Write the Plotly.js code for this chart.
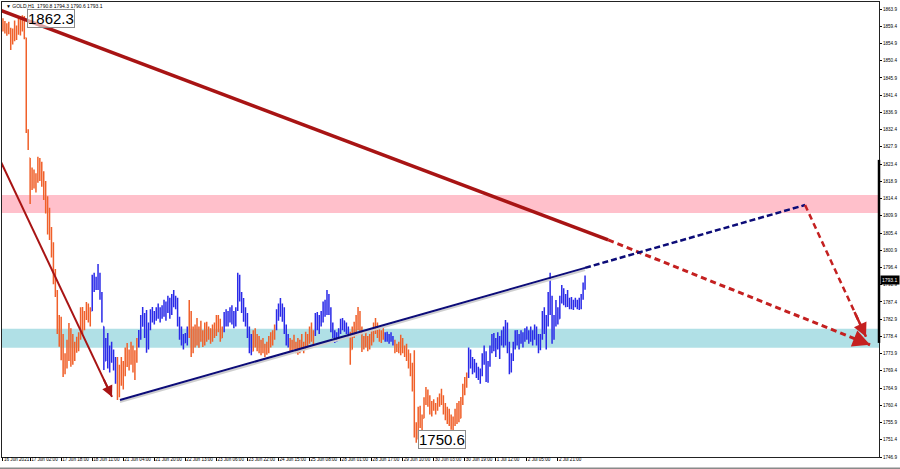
<!DOCTYPE html>
<html><head><meta charset="utf-8">
<script src="https://cdn.plot.ly/plotly-3.0.1.min.js"></script>
<style>html,body{margin:0;padding:0;background:#fff}</style>
</head><body><div id="chart" style="width:900px;height:469px"></div>
<script>
// ---- bar data (hourly GOLD bars, index 0..300) ----
const barHigh = [
1861.5,1860.8,1860.2,1860.6,1859.0,1858.8,1860.9,1859.6,1861.8,1862.0,
1862.3,1862.1,1856.4,1832.5,1825.0,1822.5,1822.0,1821.0,1825.3,1825.0,
1824.0,1821.5,1819.0,1815.0,1812.0,1807.0,1803.0,1796.0,1790.5,1784.0,
1783.5,1779.0,1774.0,1777.5,1781.9,1780.5,1779.0,1777.0,1778.3,1779.5,
1786.0,1786.1,1785.0,1787.4,1787.0,1786.0,1794.5,1795.0,1794.0,1797.3,
1795.0,1790.0,1781.0,1778.0,1779.3,1776.0,1777.0,1775.0,1773.0,1773.0,
1771.0,1773.0,1772.0,1775.5,1776.7,1775.0,1777.0,1776.0,1774.8,1778.0,
1780.1,1784.0,1786.1,1784.5,1785.3,1782.0,1785.5,1786.1,1785.0,1786.0,
1787.0,1786.0,1786.5,1788.0,1787.5,1789.0,1788.5,1789.5,1790.5,1789.0,
1788.5,1783.5,1781.0,1779.0,1779.3,1781.0,1787.9,1785.0,1781.0,1781.5,
1783.2,1781.0,1782.5,1780.0,1782.0,1782.2,1781.0,1780.5,1781.5,1782.0,
1784.0,1784.0,1783.0,1781.0,1784.8,1785.5,1785.0,1786.0,1786.5,1785.0,
1786.0,1795.0,1794.5,1790.0,1788.4,1786.0,1784.5,1781.0,1779.0,1780.0,
1780.5,1779.0,1778.5,1777.5,1778.0,1776.5,1777.0,1778.5,1779.5,1780.0,
1781.5,1785.5,1787.0,1788.4,1787.0,1786.0,1781.5,1779.0,1778.0,1777.5,
1778.8,1777.0,1778.0,1777.5,1779.0,1777.0,1779.6,1779.0,1781.0,1782.0,
1780.0,1784.5,1784.8,1784.0,1785.0,1787.5,1788.0,1790.5,1789.5,1786.0,
1782.0,1780.0,1779.5,1780.5,1783.0,1783.2,1782.5,1782.0,1781.0,1779.6,
1781.0,1782.2,1784.0,1786.1,1785.0,1781.0,1778.5,1779.6,1778.5,1779.0,
1780.0,1782.0,1783.2,1782.0,1780.5,1780.0,1780.6,1779.5,1779.6,1779.0,
1779.5,1778.5,1777.5,1776.5,1777.0,1778.8,1778.0,1776.0,1776.5,1775.0,
1774.0,1771.5,1774.8,1756.0,1760.0,1760.3,1758.0,1762.5,1765.2,1764.5,
1763.0,1761.5,1762.0,1761.0,1762.5,1763.5,1764.7,1763.0,1761.0,1760.0,
1759.5,1758.0,1757.5,1759.5,1761.0,1761.5,1762.6,1766.0,1767.8,1769.0,
1775.5,1775.0,1773.0,1772.5,1771.5,1770.5,1770.0,1774.0,1776.0,1774.5,
1772.0,1776.0,1779.0,1779.3,1778.0,1779.5,1778.5,1780.0,1781.0,1782.7,
1782.0,1777.0,1774.0,1777.0,1780.0,1780.1,1779.0,1780.0,1779.5,1780.5,
1781.0,1780.0,1781.0,1780.0,1781.5,1781.0,1779.0,1779.0,1785.0,1786.0,
1784.0,1790.0,1795.0,1789.0,1784.0,1787.9,1786.0,1789.0,1791.8,1791.0,
1789.5,1790.5,1788.5,1788.7,1788.0,1788.5,1788.0,1788.5,1789.5,1792.5,
1794.3];
const barLow = [
1858.0,1857.5,1856.9,1857.3,1853.2,1854.6,1855.5,1855.8,1857.2,1857.0,
1858.0,1856.0,1831.5,1827.1,1813.0,1816.6,1817.0,1816.0,1818.5,1819.0,
1817.5,1814.0,1810.5,1805.0,1803.6,1799.0,1792.0,1788.7,1779.0,1775.7,
1772.2,1767.8,1768.5,1770.0,1772.0,1770.5,1771.0,1772.0,1774.1,1774.5,
1777.5,1779.0,1780.0,1782.7,1782.0,1781.0,1785.0,1790.0,1790.5,1790.5,
1788.0,1782.0,1769.6,1772.0,1770.0,1769.0,1771.5,1769.5,1766.0,1761.8,
1762.5,1765.5,1764.5,1768.0,1770.4,1769.5,1771.0,1769.0,1767.0,1771.5,
1775.5,1777.5,1780.9,1778.0,1774.1,1775.0,1780.0,1782.0,1781.5,1782.5,
1783.0,1782.0,1783.0,1783.5,1782.5,1784.5,1783.0,1784.0,1786.0,1785.5,
1781.0,1777.5,1776.0,1775.0,1776.7,1776.0,1778.0,1773.0,1774.0,1775.5,
1776.0,1775.4,1777.0,1775.6,1776.0,1777.0,1777.5,1776.5,1777.0,1778.0,
1778.5,1779.5,1777.0,1778.0,1779.5,1781.0,1781.0,1782.0,1781.5,1780.5,
1781.0,1785.0,1787.5,1784.5,1782.2,1781.0,1778.0,1774.0,1773.5,1774.5,
1775.5,1774.5,1774.0,1773.5,1774.0,1773.0,1773.6,1774.0,1775.5,1776.0,
1777.5,1780.0,1782.5,1783.5,1782.2,1779.0,1776.0,1775.5,1774.5,1774.3,
1775.0,1774.0,1773.6,1774.0,1775.0,1774.0,1775.0,1775.5,1776.5,1777.0,
1776.0,1778.5,1780.0,1779.0,1781.0,1782.0,1783.5,1784.0,1784.0,1779.5,
1778.0,1776.7,1777.0,1777.5,1779.0,1780.0,1779.6,1779.0,1778.0,1771.0,
1775.0,1778.0,1778.5,1780.0,1779.5,1774.3,1775.0,1775.5,1774.5,1775.0,
1776.0,1777.0,1779.0,1778.0,1777.0,1776.7,1777.5,1777.0,1777.0,1776.5,
1777.0,1776.0,1774.0,1774.3,1774.0,1773.5,1774.0,1773.0,1772.0,1770.0,
1768.0,1764.0,1752.0,1750.6,1751.5,1754.5,1753.0,1757.0,1760.5,1760.0,
1758.0,1757.5,1759.0,1758.0,1759.0,1760.0,1760.5,1758.0,1756.5,1755.5,
1755.0,1754.0,1753.5,1755.0,1755.5,1756.0,1757.0,1760.5,1763.0,1765.0,
1767.5,1770.0,1768.5,1769.0,1767.5,1767.0,1766.0,1768.0,1771.0,1766.5,
1766.3,1770.5,1774.0,1774.5,1773.0,1775.0,1772.5,1776.0,1775.5,1776.0,
1774.0,1768.5,1769.0,1772.0,1775.0,1776.0,1775.0,1776.5,1775.5,1777.0,
1777.5,1776.5,1777.0,1776.0,1777.5,1776.0,1774.0,1774.8,1777.5,1779.0,
1775.0,1781.0,1784.0,1776.5,1777.5,1781.0,1781.5,1783.0,1787.0,1786.5,
1786.0,1786.1,1785.5,1785.5,1785.3,1786.0,1785.5,1785.3,1785.5,1788.0,
1790.6];
const barClose = [
1859.2,1858.1,1859.5,1857.8,1855.0,1858.0,1856.3,1859.0,1860.9,1858.4,
1861.5,1856.4,1832.0,1828.0,1818.5,1820.5,1819.0,1820.0,1824.0,1822.0,
1819.0,1815.0,1812.0,1807.0,1805.5,1800.5,1794.0,1790.0,1781.0,1777.0,
1774.5,1769.0,1772.5,1776.0,1774.0,1778.0,1773.5,1775.5,1777.0,1778.5,
1784.5,1781.0,1784.0,1786.5,1783.0,1785.0,1793.0,1791.0,1793.5,1792.0,
1789.0,1783.5,1772.0,1776.5,1771.0,1774.0,1772.5,1770.5,1767.0,1763.0,
1769.5,1767.0,1770.5,1773.5,1772.0,1774.5,1772.5,1771.5,1773.5,1777.0,
1779.0,1783.0,1781.5,1779.0,1776.0,1781.5,1784.5,1783.0,1784.0,1785.5,
1784.0,1785.0,1786.0,1784.5,1786.5,1788.0,1785.0,1788.5,1787.0,1788.0,
1782.0,1779.0,1777.0,1776.5,1778.5,1780.0,1779.0,1775.0,1779.5,1777.0,
1778.0,1780.5,1778.0,1776.5,1781.5,1778.5,1780.0,1777.5,1780.5,1779.0,
1783.0,1780.5,1778.0,1780.5,1784.0,1782.5,1784.5,1785.5,1782.5,1784.5,
1785.5,1792.5,1789.0,1786.0,1783.5,1782.0,1779.5,1775.0,1774.5,1778.5,
1776.5,1777.5,1775.0,1776.0,1775.0,1774.0,1776.0,1777.5,1778.5,1779.5,
1781.0,1784.5,1786.0,1784.5,1785.5,1780.0,1777.0,1777.5,1775.5,1776.5,
1776.0,1775.0,1774.5,1776.5,1775.5,1776.0,1778.5,1777.0,1780.5,1778.0,
1779.5,1783.5,1781.0,1783.0,1784.5,1786.5,1784.5,1789.0,1785.0,1780.5,
1779.0,1777.5,1778.5,1780.0,1782.0,1782.5,1781.0,1780.5,1779.0,1772.5,
1780.0,1779.0,1783.5,1781.0,1780.5,1775.5,1777.5,1776.0,1777.0,1778.5,
1777.0,1781.0,1780.0,1781.0,1778.0,1779.5,1778.0,1778.5,1777.5,1778.5,
1777.5,1777.0,1775.0,1775.5,1774.5,1777.5,1774.5,1774.0,1773.0,1771.0,
1769.0,1765.0,1753.5,1752.0,1759.0,1756.0,1757.0,1762.0,1763.0,1761.5,
1759.0,1760.5,1759.5,1760.5,1761.5,1762.5,1761.0,1759.0,1758.0,1757.5,
1756.0,1755.0,1756.5,1756.0,1760.0,1757.0,1761.5,1765.0,1767.0,1768.0,
1774.5,1771.0,1772.0,1770.0,1769.5,1768.0,1769.5,1773.0,1772.0,1767.5,
1771.0,1775.5,1778.0,1775.5,1777.0,1776.0,1777.5,1779.0,1776.5,1781.5,
1775.0,1770.0,1773.0,1776.0,1779.0,1777.0,1778.5,1777.5,1779.0,1780.0,
1778.5,1779.5,1778.0,1779.0,1780.5,1777.0,1775.0,1778.5,1784.0,1780.5,
1782.5,1789.0,1786.0,1778.0,1783.0,1785.0,1782.5,1788.5,1790.5,1787.0,
1789.0,1787.5,1788.0,1786.5,1787.5,1786.5,1787.5,1786.0,1789.0,1790.8,
1793.1];
const firstOpen = 1860.0;
// bar index ranges drawn in blue (rest orange)
const blueRanges = [[46,58],[70,95],[114,128],[141,147],[161,178],[197,201],[240,300]];

// axis ticks
const xTickIdx = [0,14,30,46,62,78,94,110,126,142,158,174,190,206,222,238,254,270,286];
const xTickText = ['16 Jun 2021','17 Jun 02:00','17 Jun 18:00','18 Jun 11:00','21 Jun 04:00','21 Jun 20:00','22 Jun 13:00','23 Jun 06:00','23 Jun 22:00','24 Jun 15:00','25 Jun 08:00','28 Jun 01:00','28 Jun 17:00','29 Jun 10:00','30 Jun 03:00','30 Jun 19:00','1 Jul 12:00','2 Jul 05:00','2 Jul 21:00'];
const yTickVals = [1863.9,1859.4,1854.9,1850.4,1845.9,1841.4,1836.9,1832.4,1827.9,1823.4,1818.9,1814.4,1809.9,1805.4,1800.9,1796.4,1791.9,1787.4,1782.9,1778.4,1773.9,1769.4,1764.9,1760.4,1755.9,1751.4,1746.9];

// zones
const resistZone = [1810.6, 1815.3];
const supportZone = [1775.4, 1780.4];

// wave drawing points (bar index, price)
const bigWaveI = [-1.55, 311.9, 446.9];
const bigWaveP = [1863.64, 1803.6, 1776.2];
const leftWaveI = [-1.55, 56.2];
const leftWaveP = [1824.5, 1762.6];
const navyWaveI = [60.3, 300, 413.4];
const navyWaveP = [1761.8, 1796.3, 1812.7];
const fcstWaveI = [413.4, 444.8];
const fcstWaveP = [1812.7, 1778.3];

const lastLabel = 1793.1;
const highLabel = {i:10, p:1862.3, text:'1862.3'};
const lowLabel = {i:213, p:1750.6, text:'1750.6'};
const headerText = '▼ GOLD,H1  1790.8 1794.3 1790.6 1793.1';

// ---- build ----
const isBlue = i => blueRanges.some(r => i >= r[0] && i <= r[1]);
const sets = {blue:{x:[],o:[],h:[],l:[],c:[]}, orange:{x:[],o:[],h:[],l:[],c:[]}};
for (let i = 0; i < barClose.length; i++) {
  let o = i === 0 ? firstOpen : barClose[i-1];
  o = Math.min(barHigh[i], Math.max(barLow[i], o));
  const s = isBlue(i) ? sets.blue : sets.orange;
  s.x.push(i); s.o.push(o); s.h.push(barHigh[i]); s.l.push(barLow[i]); s.c.push(barClose[i]);
}
const ORANGE = '#F0602A', BLUE = '#2A2AE8';
function ohlc(s, col) {
  return {type:'ohlc', x:s.x, open:s.o, high:s.h, low:s.l, close:s.c,
    increasing:{line:{color:col, width:1.5}}, decreasing:{line:{color:col, width:1.5}},
    tickwidth:0.35, hoverinfo:'skip', showlegend:false};
}
const traces = [ohlc(sets.orange, ORANGE), ohlc(sets.blue, BLUE)];

const DRED = '#A81414', RED = '#C42020', NAVY = '#0C0C78';
function seg(i0,p0,i1,p1,color,width,dash) {
  return {type:'line', xref:'x', yref:'y', x0:i0, y0:p0, x1:i1, y1:p1, layer:'above',
    line:{color:color, width:width, dash:dash||'solid'}};
}
const shapes = [
  {type:'rect', xref:'paper', yref:'y', x0:0, x1:1, y0:resistZone[0], y1:resistZone[1], fillcolor:'#FFC0CB', line:{width:0}, layer:'below'},
  {type:'rect', xref:'paper', yref:'y', x0:0, x1:1, y0:supportZone[0], y1:supportZone[1], fillcolor:'#B0E0E6', line:{width:0}, layer:'below'},
  // shadow under navy line
  seg(navyWaveI[0], navyWaveP[0]-0.55, navyWaveI[1], navyWaveP[1]-0.55, '#CFCFCF', 2),
  seg(leftWaveI[0], leftWaveP[0], leftWaveI[1], leftWaveP[1], DRED, 2),
  seg(bigWaveI[0], bigWaveP[0], bigWaveI[1], bigWaveP[1], DRED, 3.5),
  seg(bigWaveI[1], bigWaveP[1], bigWaveI[2], bigWaveP[2], RED, 3, '6px,4px'),
  seg(navyWaveI[0], navyWaveP[0], navyWaveI[1], navyWaveP[1], NAVY, 2),
  seg(navyWaveI[1], navyWaveP[1], navyWaveI[2], navyWaveP[2], NAVY, 2.5, '6px,3px'),
  seg(fcstWaveI[0], fcstWaveP[0], fcstWaveI[1], fcstWaveP[1], RED, 2.5, '6px,4px'),
  // right scale marker
  {type:'line', xref:'paper', yref:'y', x0:1, x1:1, y0:1824.5, y1:1776.7, line:{color:'#000', width:2.5}},
  // bottom frame bar
  {type:'line', xref:'paper', yref:'paper', x0:-0.01, x1:1.05, y0:-0.025, y1:-0.025, line:{color:'#8a8a8a', width:2}}
];

function arrowHead(iArr, pArr, color, width, size, f) {
  const n = iArr.length;
  const ti = iArr[n-1], tp = pArr[n-1], si = iArr[n-2], sp = pArr[n-2];
  return {x:ti, y:tp, ax:ti + (si-ti)*f, ay:tp + (sp-tp)*f, xref:'x', yref:'y', axref:'x', ayref:'y',
    text:'', showarrow:true, arrowhead:2, arrowsize:size, arrowwidth:width, arrowcolor:color, standoff:0};
}
const labelFont = {family:'Liberation Sans, Arial, sans-serif', size:15, color:'#000'};
const annotations = [
  arrowHead(bigWaveI, bigWaveP, RED, 3, 1.15, 0.05),
  arrowHead(fcstWaveI, fcstWaveP, RED, 2.5, 1.1, 0.2),
  arrowHead(leftWaveI, leftWaveP, DRED, 2, 1.1, 0.08),
  {x:highLabel.i, y:highLabel.p, xref:'x', yref:'y', text:highLabel.text, showarrow:false, xanchor:'left', yanchor:'middle',
   xshift:5, yshift:-3, font:labelFont, bgcolor:'rgba(255,255,255,0.6)', bordercolor:'#8c8c8c', borderwidth:1, borderpad:0},
  {x:lowLabel.i, y:lowLabel.p, xref:'x', yref:'y', text:lowLabel.text, showarrow:false, xanchor:'left', yanchor:'middle',
   xshift:2, yshift:3, font:labelFont, bgcolor:'#fff', bordercolor:'#8c8c8c', borderwidth:1, borderpad:0},
  {x:1, y:lastLabel, xref:'paper', yref:'y', text:lastLabel.toFixed(1), showarrow:false, xanchor:'left', yanchor:'middle',
   xshift:1, font:{family:'Liberation Sans, Arial, sans-serif', size:5, color:'#fff'}, bgcolor:'#000', borderpad:1},
  {x:0, y:1, xref:'paper', yref:'paper', text:headerText, showarrow:false, xanchor:'left', yanchor:'top',
   xshift:3, yshift:0, font:{family:'Liberation Sans, Arial, sans-serif', size:5, color:'#000'}, borderpad:0}
];

const tickFont = {family:'Liberation Sans, Arial, sans-serif', size:4.6, color:'#000'};
const layout = {
  width:900, height:469,
  margin:{l:2, r:21, t:2, b:12, pad:0},
  paper_bgcolor:'#fff', plot_bgcolor:'#fff',
  showlegend:false, hovermode:false, dragmode:false,
  xaxis:{type:'linear', range:[-0.5, 451.5], tickmode:'array', tickvals:xTickIdx, ticktext:xTickText,
    ticks:'outside', ticklen:3, tickwidth:1, tickcolor:'#000', tickfont:tickFont, ticklabelposition:'outside right',
    tickangle:0, ticklabelstandoff:-3, ticklabeloverflow:'allow',
    showgrid:false, zeroline:false, showline:true, linecolor:'#222', linewidth:1, mirror:true,
    rangeslider:{visible:false}, fixedrange:true},
  yaxis:{side:'right', range:[1746.9, 1865.73], tickmode:'array', tickvals:yTickVals,
    ticktext:yTickVals.map(v => v.toFixed(1)), ticks:'outside', ticklen:2, tickwidth:1, tickcolor:'#000',
    tickfont:tickFont, showgrid:false, zeroline:false, showline:true, linecolor:'#222', linewidth:1, mirror:true,
    fixedrange:true},
  shapes:shapes, annotations:annotations
};
Plotly.newPlot('chart', traces, layout, {staticPlot:true, displayModeBar:false});
</script>
</body></html>
